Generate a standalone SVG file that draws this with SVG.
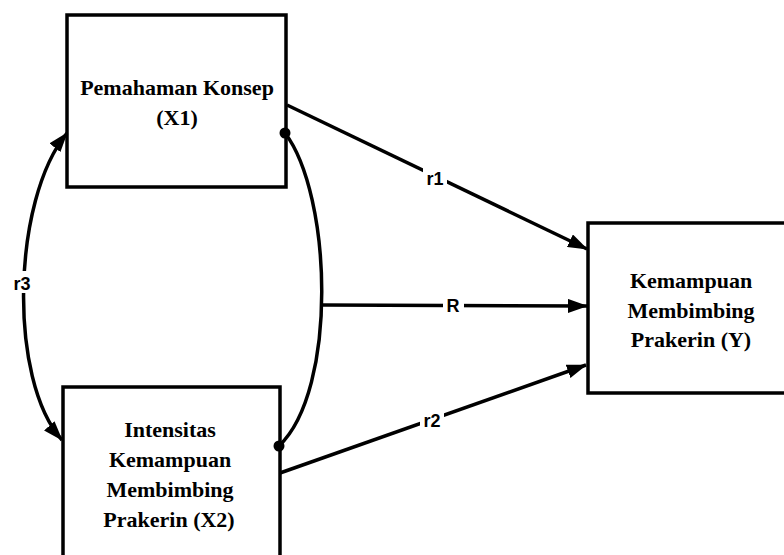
<svg xmlns="http://www.w3.org/2000/svg" width="784" height="555" viewBox="0 0 784 555">
<style>
.box{fill:#fff;stroke:#000;stroke-width:3.5}
.nt{font-family:"Liberation Serif","Times New Roman",serif;font-weight:bold;font-size:22px;fill:#000;text-anchor:middle}
.ln{fill:none;stroke:#000;stroke-width:3.5}
.lb{font-family:"Liberation Sans",Arial,sans-serif;font-weight:bold;font-size:18px;fill:#000;text-anchor:middle}
.bg{fill:#fff}
</style>
<defs>
<marker id="arr" viewBox="0 0 20 14" refX="19" refY="7" markerWidth="20" markerHeight="14" markerUnits="userSpaceOnUse" orient="auto-start-reverse">
<path d="M0,0 L20,7 L0,14 z" fill="#000"/>
</marker>
<marker id="dot" viewBox="0 0 12 12" refX="6" refY="6" markerWidth="12" markerHeight="12" markerUnits="userSpaceOnUse">
<circle cx="6" cy="6" r="5.5" fill="#000"/>
</marker>
</defs>
<rect width="784" height="555" fill="#fff"/>
<g id="x1">
<rect class="box" x="67" y="15" width="219" height="172"/>
<text class="nt" x="177" y="95">Pemahaman Konsep</text>
<text class="nt" x="177" y="125">(X1)</text>
</g>
<g id="x2">
<rect class="box" x="63" y="387" width="217" height="180"/>
<text class="nt" x="170" y="437">Intensitas</text>
<text class="nt" x="170" y="467">Kemampuan</text>
<text class="nt" x="170" y="497">Membimbing</text>
<text class="nt" x="169" y="527">Prakerin (X2)</text>
</g>
<g id="y">
<rect class="box" x="588" y="223" width="210" height="170"/>
<text class="nt" x="691" y="288">Kemampuan</text>
<text class="nt" x="691" y="318">Membimbing</text>
<text class="nt" x="691" y="347">Prakerin (Y)</text>
</g>
<g id="connectors">
<path class="ln" d="M287,105 L587,249" marker-end="url(#arr)"/>
<path class="ln" d="M323,305 L587,306" marker-end="url(#arr)"/>
<path class="ln" d="M280,473 L586,365" marker-end="url(#arr)"/>
<path class="ln" d="M285,133 C332,195 338,390 279,446" marker-start="url(#dot)" marker-end="url(#dot)"/>
<path class="ln" d="M67,133 C12,200 8,380 62,440" marker-start="url(#arr)" marker-end="url(#arr)"/>
<rect class="bg" x="423" y="168" width="24" height="20"/>
<text class="lb" x="435" y="185">r1</text>
<rect class="bg" x="443" y="296" width="21" height="20"/>
<text class="lb" x="453" y="312">R</text>
<rect class="bg" x="420" y="410" width="24" height="20"/>
<text class="lb" x="432" y="427">r2</text>
<rect class="bg" x="8" y="271" width="28" height="22"/>
<text class="lb" x="22" y="290">r3</text>
</g>
</svg>
